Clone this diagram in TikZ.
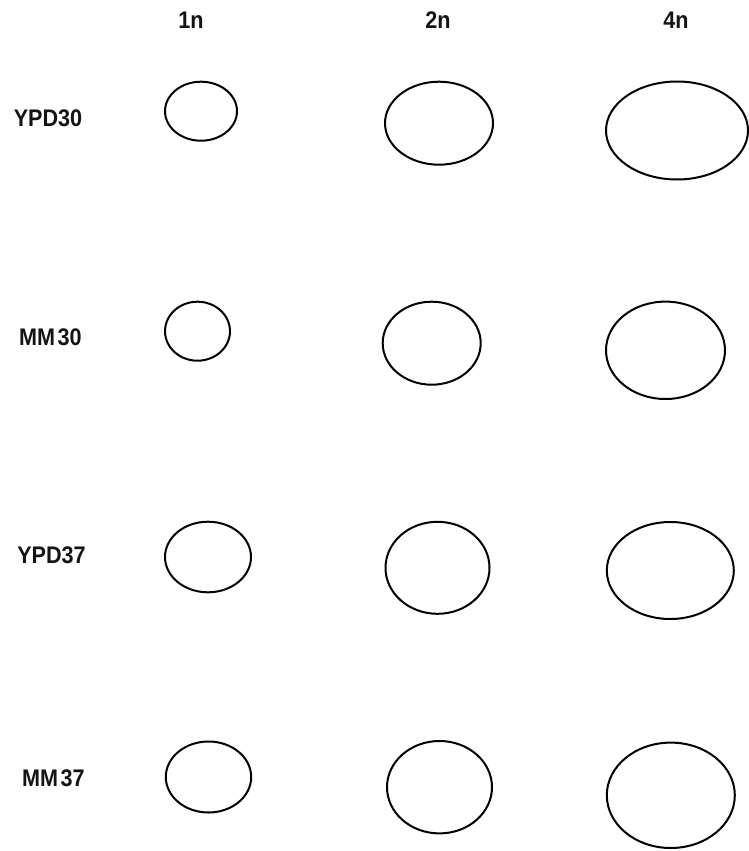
\documentclass[tikz,border=0pt]{standalone}
\usepackage{fontspec}
\setmainfont{Liberation Sans}[FakeStretch=0.9]
\usetikzlibrary{shapes.geometric}
\tikzset{
  cell/.style={ellipse, draw=black, line width=2pt, inner sep=0pt, fill=none},
  lbl/.style={font=\fontsize{24}{24}\selectfont\bfseries, inner sep=0pt, text=black!92}
}
\newcommand{\cellat}[5]{\node[cell, minimum width=#4pt, minimum height=#5pt] (#1) at (#2,#3) {};}
\begin{document}
\begin{tikzpicture}[x=1pt,y=-1pt]
\useasboundingbox[fill=white] (0,0) rectangle (749,851);
% column headers
\node[lbl] (h1) at (191,20.5) {1n};
\node[lbl] (h2) at (438,20.5) {2n};
\node[lbl] (h4) at (676,20.5) {4n};
% row labels
\node[lbl] (r1) at (48,118) {YPD30};
\node[lbl] (r2) at (50.5,337.5) {MM\hspace{2.5pt}30};
\node[lbl] (r3) at (51.5,555.5) {YPD37};
\node[lbl] (r4) at (53.5,778) {MM\hspace{2.5pt}37};
% row 1
\cellat{a1}{201}{111.2}{72}{59}
\cellat{a2}{439}{123.2}{108}{83}
\cellat{a4}{677}{130.5}{142}{98}
% row 2
\cellat{b1}{197.5}{331.2}{65}{59}
\cellat{b2}{431.7}{343.2}{98}{83}
\cellat{b4}{665.5}{350.3}{119}{97.4}
% row 3
\cellat{c1}{208}{557}{86}{70.6}
\cellat{c2}{437.5}{567.8}{104}{92}
\cellat{c4}{670.3}{570.5}{127}{97}
% row 4
\cellat{d1}{208.5}{777}{85.4}{71}
\cellat{d2}{439.5}{787.2}{105}{92.4}
\cellat{d4}{670.8}{795.3}{128}{105.4}
\end{tikzpicture}
\end{document}
